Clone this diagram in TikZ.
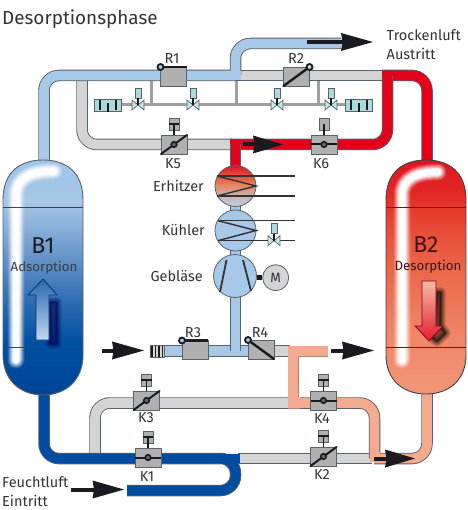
\documentclass[tikz,border=0pt]{standalone}
\usepackage{fontspec}
\setmainfont{Fira Sans}
\definecolor{edge}{RGB}{88,98,106}
\definecolor{lblue}{RGB}{168,200,232}
\definecolor{lgray}{RGB}{212,212,212}
\definecolor{pred}{RGB}{226,0,26}
\definecolor{dblue}{RGB}{0,76,160}
\definecolor{peach}{RGB}{244,170,142}
\definecolor{boxgray}{RGB}{176,176,176}
\definecolor{teal}{RGB}{172,218,220}
\definecolor{ink}{RGB}{26,26,32}
\definecolor{txt}{RGB}{50,50,56}
\pgfdeclareverticalshading{bone}{100bp}{
 rgb(0bp)=(0,.27,.59);
 rgb(25bp)=(0,.27,.59);
 rgb(36bp)=(0,.31,.63);
 rgb(44bp)=(.16,.41,.69);
 rgb(55bp)=(.41,.59,.80);
 rgb(66bp)=(.65,.78,.90);
 rgb(75bp)=(.62,.77,.91);
 rgb(100bp)=(.62,.77,.91)}
\pgfdeclareverticalshading{btwo}{100bp}{
 rgb(0bp)=(.94,.59,.47);
 rgb(25bp)=(.94,.59,.47);
 rgb(38bp)=(.94,.52,.40);
 rgb(50bp)=(.92,.42,.30);
 rgb(60bp)=(.91,.30,.22);
 rgb(68bp)=(.89,.16,.14);
 rgb(75bp)=(.87,.08,.14);
 rgb(100bp)=(.87,.08,.14)}
\pgfdeclareverticalshading{heat}{100bp}{
 rgb(0bp)=(.76,.80,.88);
 rgb(25bp)=(.76,.80,.88);
 rgb(38bp)=(.78,.71,.71);
 rgb(52bp)=(.91,.51,.35);
 rgb(75bp)=(.87,.08,.14);
 rgb(100bp)=(.87,.08,.14)}
\tikzset{
 vbox/.style={draw=edge,line width=.8pt,fill=boxgray,minimum width=26pt,minimum height=19pt,inner sep=0pt,outer sep=0pt},
 actbox/.style={draw=edge,line width=.6pt,fill=boxgray,minimum width=10pt,minimum height=12pt,inner sep=0pt},
 pilot/.style={draw=edge,line width=.6pt,fill=teal,minimum width=6pt,minimum height=10pt,inner sep=0pt},
 silencer/.style={draw=edge,line width=.8pt,fill=teal,minimum width=27pt,minimum height=12pt,inner sep=0pt},
 lbl/.style={font=\fontsize{14.5}{14.5}\selectfont,text=txt,inner sep=0pt},
 blade/.style={line width=2pt,ink,line cap=round},
 hub/.style={circle,draw=ink,line width=1.6pt,fill=boxgray!60!black,minimum size=5.5pt,inner sep=0pt},
 rhub/.style={circle,draw=ink,line width=1.8pt,minimum size=6pt,inner sep=0pt},
 thin pipe/.style={line width=3pt,color=gray!75},
 coil/.style={line width=1.4pt,ink!90},
 vessel/.style={circle,draw=edge,line width=.8pt,minimum size=41pt,inner sep=0pt},
}
\newcommand\pipeline[2]{%
 \draw[line width=11.5pt,color=edge,rounded corners=15pt] #2;
 \draw[line width=9.7pt,color=#1,rounded corners=15pt] #2;}
\newcommand\damper[4]{%
 \node[vbox] (#1) at (#2,#3) {};
 \node[actbox] (#1a) at (#2,#3-20.5) {};
 \draw[line width=1.5pt,ink] (#1.north) -- (#1a.center);
 #4
 \node[hub] (#1h) at (#2,#3) {};}
\newcommand\tbar[1]{\draw[line width=1.4pt,ink] (#1a.west) -- (#1a.east);}
\newcommand\openblade[1]{\draw[blade,line cap=butt] (#1.west) -- (#1.east);}
\newcommand\diagblade[1]{\draw[blade] (#1.south west) -- (#1.north east);}
\newcommand\smallvalve[3]{%
 \node[pilot] (#1p) at (#2,#3-12) {};
 \coordinate (#1) at (#2,#3);
 \draw[edge,line width=.7pt,fill=teal!70] (#2-6,#3-5) -- (#2+6,#3+5) -- (#2+6,#3-5) -- (#2-6,#3+5) -- cycle;
 \draw[line width=1.6pt,ink] (#1p.south) -- (#1);}
\newcommand\flowarrow[5]{%
 \coordinate (#1s) at (#2,#5); \coordinate (#1h) at (#3,#5); \coordinate (#1t) at (#4,#5);
 \draw[line width=4pt,ink] (#1s) -- ([xshift=3pt]#1h);
 \fill[ink] (#1t) -- (#3,#5-9) -- (#3+1.5,#5) -- (#3,#5+9) -- cycle;}
\newcommand\glow[1]{%
 \foreach \w/\o in {17/.12,15/.18,13/.25,11/.35,9/.5,7/.7,5/.85}{%
  \draw[white,opacity=\o,line width=\w pt,line cap=round] #1;}}
\newcommand\softshadow[2]{%
 \foreach \w/\o in {10/.1,8/.12,6/.15,4/.18,2/.22,0.5/.25}{%
  \draw[#1,opacity=\o,line width=\w pt,line join=round] #2;}
 \fill[#1,opacity=.4] #2;}
\begin{document}
\begin{tikzpicture}[x=1pt,y=-1pt]
\useasboundingbox (0,0) rectangle (467,510);
% ------- named junctions
\coordinate (b1top) at (44,165); \coordinate (b1bot) at (44,390);
\coordinate (b2top) at (427,165); \coordinate (b2bot) at (427,390);
\coordinate (topL) at (44,75.5); \coordinate (topJ) at (235.5,75.5);
\coordinate (topR) at (427,75.5); \coordinate (redJ) at (387.5,75.5);
\coordinate (midJ) at (235,144.5); \coordinate (botL) at (44,458.5);
% ------- grey pipes
\pipeline{lgray}{(235,75.5) -- (384,75.5)}
\pipeline{lgray}{(82,78) -- (82,144.5) -- (232,144.5)}
\pipeline{lgray}{(95,456) -- (95,403) -- (290,403)}
\pipeline{lgray}{(238,458.5) -- (372,458.5)}
\pipeline{lgray}{(250,351) -- (290,351)}
% ------- light blue
\pipeline{lblue}{(b1top) -- (topL) -- (topJ)}
\pipeline{lblue}{(235.5,75.5) -- (235.5,43.5) -- (341,43.5)}
\fill[lblue] (225,71) rectangle (240.6,80);
\pipeline{lblue}{(235.5,205) -- (235.5,212)}
\pipeline{lblue}{(235.5,250) -- (235.5,256)}
\pipeline{lblue}{(165,351) -- (235.5,351) -- (248,351)}
\pipeline{lblue}{(235.5,295) -- (235.5,351)}
\fill[lblue] (231,340) rectangle (240,355.8);
% ------- red
\pipeline{pred}{(b2top) -- (topR) -- (382,75.5)}
\pipeline{pred}{(387.5,75.5) -- (387.5,144.5) -- (230,144.5)}
\pipeline{pred}{(235.5,144.5) -- (235.5,170)}
\fill[pred] (382.6,71) rectangle (392,80);
\fill[pred] (231,139.8) rectangle (240,149);
% ------- dark blue
\pipeline{dblue}{(b1bot) -- (botL) -- (235.5,458.5) -- (235.5,490.5) -- (127,490.5)}
\fill[dblue] (225,454) rectangle (240.4,463);
% ------- peach
\draw[line width=11pt,color=peach!75!black] (328,351) -- (293,351) -- (293,403) -- (340,403);
\draw[line width=11.5pt,color=edge,rounded corners=15pt] (300,403) -- (374.5,403) -- (374.5,458.5);
\draw[line width=9.7pt,color=peach] (328,351) -- (293,351) -- (293,403) -- (340,403);
\draw[line width=9.7pt,color=peach,rounded corners=15pt] (300,403) -- (374.5,403) -- (374.5,458.5);
\pipeline{peach}{(374,458.5) -- (427,458.5) -- (b2bot)}
\fill[peach] (369.8,452) rectangle (380,462);
% ------- pilot air lines
\draw[thin pipe] (122,105) -- (345,105);
\draw[thin pipe] (151,81) -- (151,105);
\draw[thin pipe] (236,81) -- (236,105);
\draw[thin pipe] (318,81) -- (318,105);
% ------- tanks
\shade[shading=bone] (3,200) .. controls (3,172) and (20,160) .. (43,160) .. controls (66,160) and (83,172) .. (83,200) -- (83,355) .. controls (83,380) and (66,395) .. (43,395) .. controls (20,395) and (3,380) .. (3,355) -- cycle;
\begin{scope}
\clip (3,200) .. controls (3,172) and (20,160) .. (43,160) .. controls (66,160) and (83,172) .. (83,200) -- (83,355) .. controls (83,380) and (66,395) .. (43,395) .. controls (20,395) and (3,380) .. (3,355) -- cycle;
\glow{(16,360) -- (16,195) .. controls (16,178) and (32,171) .. (54,171)}
\end{scope}
\draw[edge,line width=.9pt] (3,200) .. controls (3,172) and (20,160) .. (43,160) .. controls (66,160) and (83,172) .. (83,200) -- (83,355) .. controls (83,380) and (66,395) .. (43,395) .. controls (20,395) and (3,380) .. (3,355) -- cycle;
\draw[edge!70!black,line width=.5pt] (3,207.5) -- (83,207.5) (3,347.5) -- (83,347.5);
\shade[shading=btwo] (386,200) .. controls (386,172) and (403,160) .. (426,160) .. controls (449,160) and (466,172) .. (466,200) -- (466,355) .. controls (466,380) and (449,394) .. (426,394) .. controls (403,394) and (386,380) .. (386,355) -- cycle;
\begin{scope}
\clip (386,200) .. controls (386,172) and (403,160) .. (426,160) .. controls (449,160) and (466,172) .. (466,200) -- (466,355) .. controls (466,380) and (449,394) .. (426,394) .. controls (403,394) and (386,380) .. (386,355) -- cycle;
\glow{(402,360) -- (402,195) .. controls (402,178) and (418,172) .. (438,172)}
\end{scope}
\draw[edge!70!black,line width=.9pt] (386,200) .. controls (386,172) and (403,160) .. (426,160) .. controls (449,160) and (466,172) .. (466,200) -- (466,355) .. controls (466,380) and (449,394) .. (426,394) .. controls (403,394) and (386,380) .. (386,355) -- cycle;
\draw[edge!50!black,line width=.5pt] (386,207.5) -- (466,207.5) (386,347.5) -- (466,347.5);
% tank arrows
\softshadow{black!70!blue}{(50,302) -- (50,344) -- (57,344) -- (57,302) -- cycle}
\shade[top color=dblue!85,bottom color=lblue!70!white,draw=dblue!70!black,line width=.8pt] (43,279) -- (57,295) -- (49,295) -- (49,340) -- (36,340) -- (36,295) -- (28,295) -- cycle;
\softshadow{black}{(437,292) -- (441,292) -- (441,326) -- (446,333) -- (437,342) -- (432,338) -- cycle}
\shade[top color=peach!80!white,bottom color=pred!90,draw=pred!60!black,line width=.7pt] (422,281) -- (436,281) -- (436,326) -- (443,326) -- (429,341) -- (415,326) -- (422,326) -- cycle;
\node[font=\fontsize{23}{23}\selectfont,text=ink,inner sep=0pt] (B1t) at (43,246) {B1};
\node[font=\fontsize{13.3}{13.3}\selectfont,text=ink!85,inner sep=0pt] (B1s) at (44,268) {Adsorption};
\node[font=\fontsize{23}{23}\selectfont,text=ink!85!red,inner sep=0pt] (B2t) at (426,245) {B2};
\node[font=\fontsize{13.3}{13.3}\selectfont,text=ink!85!red,inner sep=0pt] (B2s) at (428,267) {Desorption};
% ------- heater / cooler / blower
\coordinate (ehr) at (295,176); \coordinate (ehs) at (295,196);
\shade[shading=heat] (235.5,186) circle (20.5);
\node[vessel] (erh) at (235.5,186) {};
\draw[coil] (217,176) -- (ehr);
\draw[coil] (217,196) -- (ehs);
\draw[coil] (217,176) -- (256,186) -- (217,196);
\node[vessel,fill=lblue] (kue) at (235.5,230.5) {};
\draw[coil] (218,220.7) -- (295,220.7);
\draw[coil] (218,240.7) -- (295,240.7);
\draw[coil] (218,220.7) -- (256,230.5) -- (218,240.7);
\smallvalve{kv}{274}{240.7}
\node[vessel,fill=lblue,minimum size=43pt] (geb) at (235,276) {};
\draw[line width=1.8pt,ink!90] (226.5,260) -- (220,292);
\draw[line width=1.8pt,ink!90] (243,260) -- (251,291);
\node[circle,draw=edge,line width=.8pt,fill=lgray,minimum size=26pt,inner sep=0pt,font=\fontsize{13.5}{13.5}\selectfont,text=txt] (mot) at (275.7,277.7) {M};
\draw[line width=5pt,ink] (geb.east |- mot) -- (mot.west);
\node[lbl,anchor=east] (l1) at (204,186) {Erhitzer};
\node[lbl,anchor=east] (l2) at (205,230) {Kühler};
\node[lbl,anchor=east] (l3) at (203,276) {Gebläse};
% ------- pilot valves and silencers
\smallvalve{v1}{138}{105}
\smallvalve{v2}{193}{105}
\smallvalve{v3}{277}{105}
\smallvalve{v4}{331}{105}
\node[silencer] (s1) at (108,105.5) {};
\draw[line width=1.5pt,ink] (100,100) -- (100,110) (108,103) -- (108,112) (116,100) -- (116,110);
\node[silencer] (s2) at (359,105.5) {};
\draw[line width=1.5pt,ink] (351,100) -- (351,110) (359,103) -- (359,112) (367,100) -- (367,110);
\node[draw=edge,line width=.5pt,fill=lgray,minimum width=14pt,minimum height=11.5pt,inner sep=0pt] (s3) at (157,351) {};
\draw[line width=1.5pt,ink] (152,346) -- (152,356.5) (155.5,346) -- (155.5,356.5) (159,346) -- (159,356.5) (162.5,346) -- (162.5,356.5);
% ------- R valves
\node[vbox] (R1) at (173.5,76.5) {};
\draw[line width=2.4pt,ink] (R1.north west) -- (R1.north east);
\node[rhub,fill=lblue] (R1h) at (R1.north west) {};
\node[vbox] (R2) at (296.5,76.5) {};
\draw[blade,line width=2.4pt] (R2.south west) -- (R2.north east);
\node[rhub,fill=lgray] (R2h) at (R2.north east) {};
\node[vbox] (R3) at (195,350) {};
\draw[line width=2.4pt,ink] (R3.north west) -- (R3.north east);
\node[rhub,fill=lblue] (R3h) at (R3.north west) {};
\node[vbox] (R4) at (261,349.5) {};
\draw[blade,line width=2.4pt] (R4.north west) -- (R4.south east);
\node[rhub,fill=lblue] (R4h) at (R4.north west) {};
\node[lbl] (R1t) at (172,59) {R1};
\node[lbl] (R2t) at (296,59) {R2};
\node[lbl] (R3t) at (193,332.5) {R3};
\node[lbl] (R4t) at (260,332.5) {R4};
% ------- K valves
\damper{K5}{174}{144.5}{\diagblade{K5}\tbar{K5}}
\damper{K6}{324}{144.5}{\openblade{K6}}
\damper{K3}{146.5}{400.5}{\diagblade{K3}\tbar{K3}}
\damper{K4}{323.5}{400.5}{\openblade{K4}\tbar{K4}}
\damper{K1}{148}{457.5}{\openblade{K1}\tbar{K1}}
\damper{K2}{323.5}{456.5}{\diagblade{K2}\tbar{K2}}
\node[lbl] (K5t) at (173,163.5) {K5};
\node[lbl] (K6t) at (321,163.5) {K6};
\node[lbl] (K3t) at (146,417.5) {K3};
\node[lbl] (K4t) at (322,418.5) {K4};
\node[lbl] (K1t) at (147,476.5) {K1};
\node[lbl] (K2t) at (322,474.5) {K2};
% ------- flow arrows
\flowarrow{a1}{307}{341}{373}{42}
\flowarrow{a2}{243}{253}{283}{144.5}
\flowarrow{a3}{102}{112}{144}{350.5}
\flowarrow{a4}{331}{342}{374}{350.5}
\flowarrow{a5}{374}{385}{415}{458.5}
\flowarrow{a6}{71}{92.5}{124}{489.5}
% ------- texts
\node[anchor=west,font=\fontsize{18.9}{18.9}\selectfont,text=txt,inner sep=0pt] (title) at (2,19) {Desorptionsphase};
\node[lbl,anchor=west] (t1) at (386.5,35) {Trockenluft};
\node[lbl,anchor=west] (t2) at (386.5,54) {Austritt};
\node[lbl,anchor=west] (t3) at (2,482) {Feuchtluft};
\node[lbl,anchor=west] (t4) at (2,501) {Eintritt};
\end{tikzpicture}
\end{document}
